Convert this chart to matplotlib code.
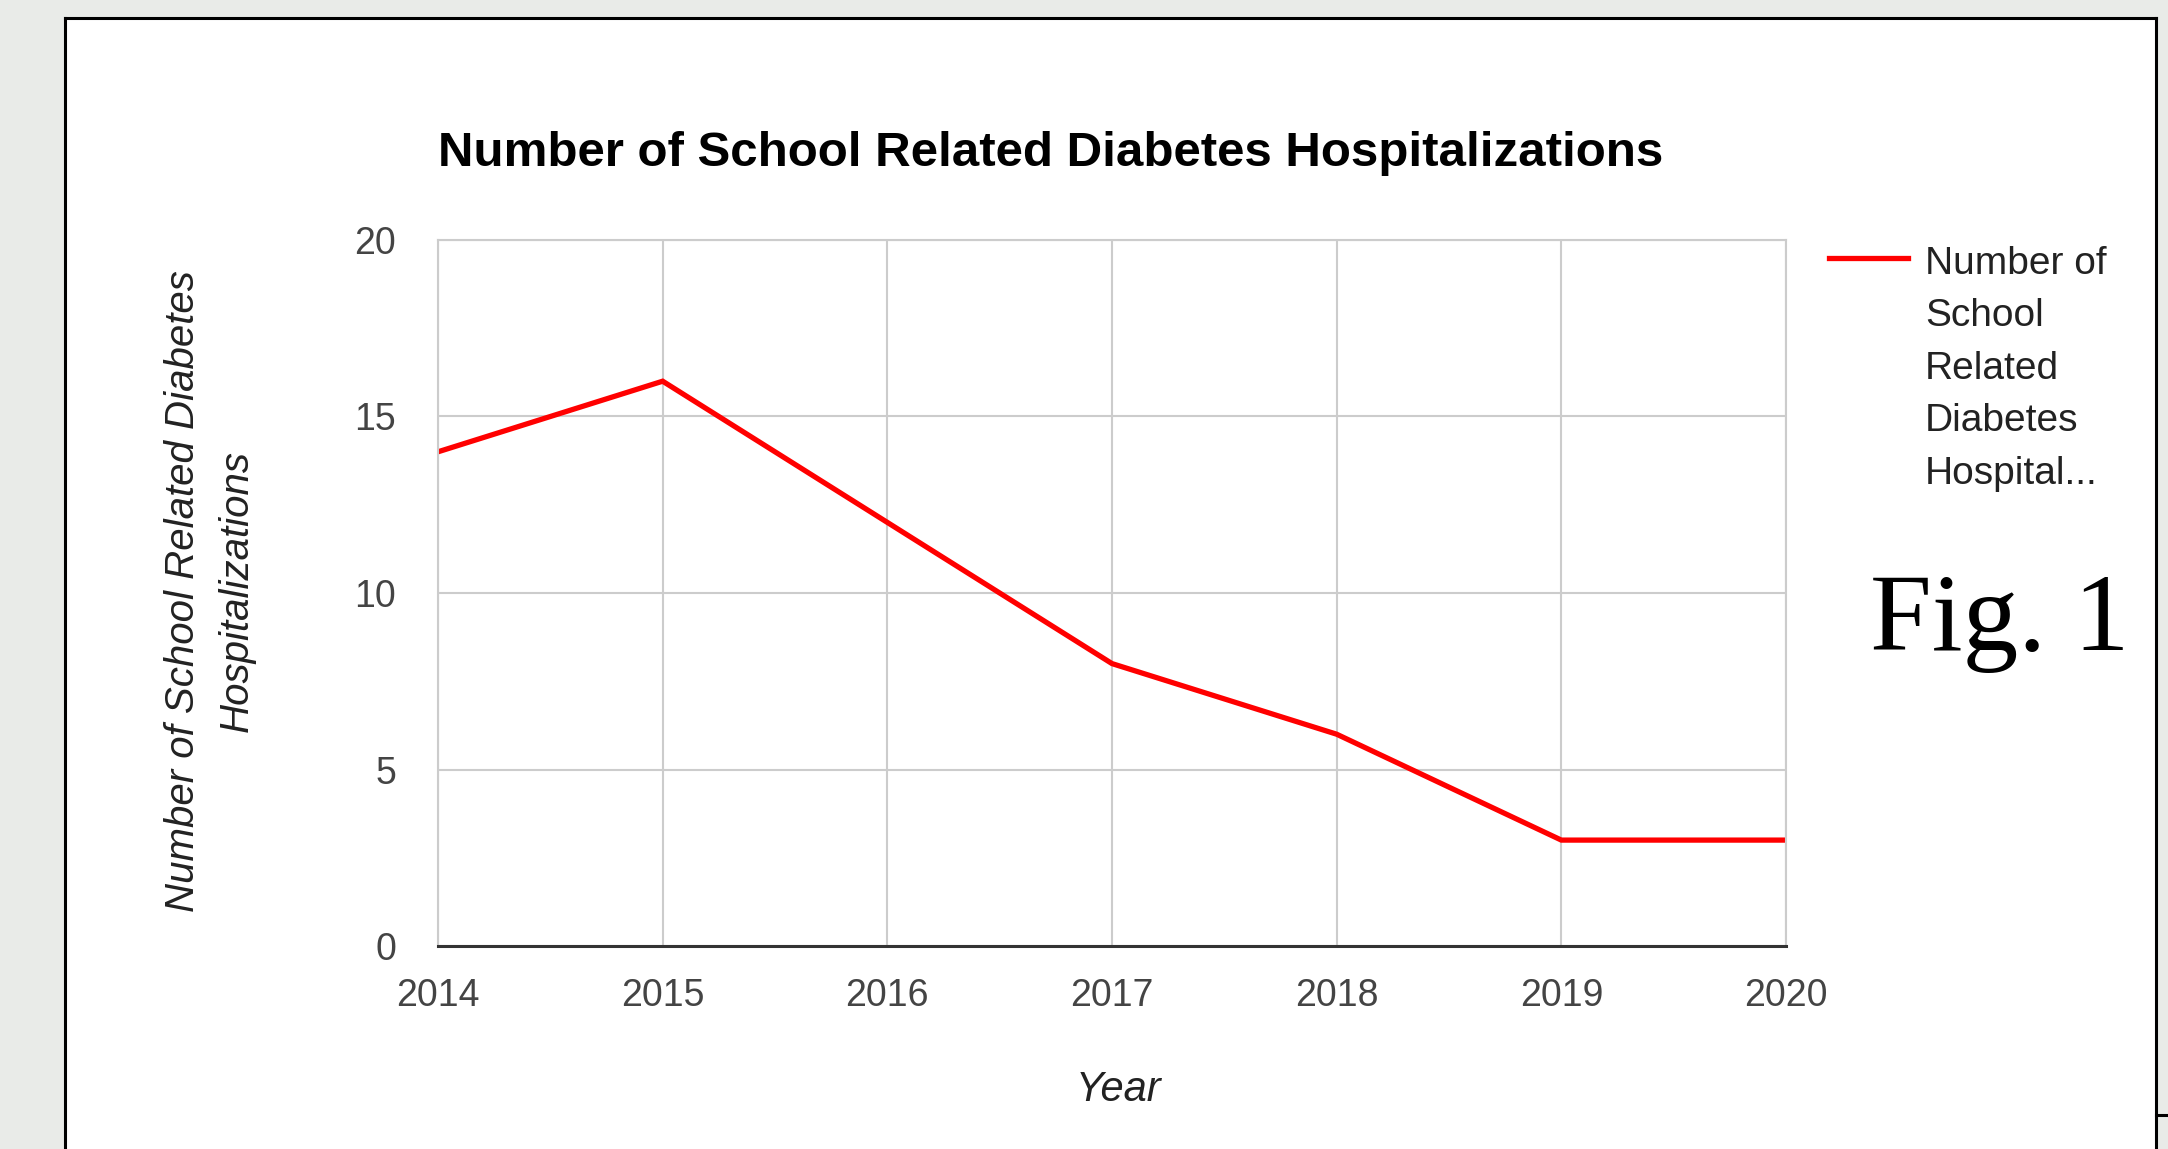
import matplotlib.pyplot as plt
from matplotlib.lines import Line2D

# data
years = [2014, 2015, 2016, 2017, 2018, 2019, 2020]
hospitalizations = [14, 16, 12, 8, 6, 3, 3]
y_ticks = [0, 5, 10, 15, 20]

title = 'Number of School Related Diabetes Hospitalizations'
series_name = 'Number of\nSchool\nRelated\nDiabetes\nHospital...'

W, H = 2168, 1149
fig = plt.figure(figsize=(W / 100, H / 100), dpi=100)
fig.patch.set_facecolor('#e9ebe8')

def fx(px):
    return px / W

def fy(py):
    return 1 - py / H

# white slide panel with black frame
panel = plt.Polygon([(fx(65), fy(18)), (fx(2156), fy(18)), (fx(2156), fy(1149)), (fx(65), fy(1149))],
                    closed=True, facecolor='white', edgecolor='none', transform=fig.transFigure,
                    zorder=-5)
fig.patches.append(panel)
for xs, ys in [([65, 2156], [18, 18]), ([65, 65], [18, 1149]), ([2156, 2156], [18, 1149]),
               ([2156, 2168], [1115, 1115])]:
    fig.lines.append(Line2D([fx(x) for x in xs], [fy(y) for y in ys], color='black', lw=2.2,
                            transform=fig.transFigure, zorder=-4))

font = ['Liberation Sans', 'DejaVu Sans']

ax = fig.add_axes([fx(438), fy(946), fx(1786 - 438), (946 - 240) / H])
ax.set_zorder(2)
ax.patch.set_alpha(0)
ax.plot(years, hospitalizations, color='#ff0000', lw=3.8, solid_joinstyle='miter')
ax.set_xlim(2014, 2020)
ax.set_ylim(0, 20)
ax.set_xticks(years)
ax.set_yticks(y_ticks)
ax.grid(True, color='#cccccc', lw=1.5)
ax.set_axisbelow(True)
ax.tick_params(length=0, labelsize=27, labelcolor='#444444')
ax.tick_params(axis='x', pad=23)
ax.tick_params(axis='y', pad=30)
for lab in ax.get_xticklabels() + ax.get_yticklabels():
    lab.set_family(font)
for s in ['left', 'right', 'top']:
    ax.spines[s].set_color('#cccccc')
    ax.spines[s].set_linewidth(1.5)
ax.spines['bottom'].set_color('#333333')
ax.spines['bottom'].set_linewidth(2.2)

fig.text(fx(438), fy(166), title, fontsize=35.5, fontweight='bold', family=font, color='black',
         ha='left', va='baseline')
fig.text(fx(210), fy(591), 'Number of School Related Diabetes\nHospitalizations', rotation=90,
         fontsize=29, style='italic', family=font, color='#222222', ha='center', va='center',
         linespacing=1.5)
fig.text(fx(1118), fy(1090), 'Year', fontsize=30, style='italic', family=font, color='#222222',
         ha='center', va='center')

# legend
fig.lines.append(Line2D([fx(1829), fx(1908)], [fy(258), fy(258)], color='#ff0000', lw=3.8,
                        transform=fig.transFigure))
fig.text(fx(1925), fy(484), series_name, fontsize=28, family=font, color='#222222',
         ha='left', va='baseline', linespacing=1.59)

fig.text(fx(1870), fy(650), 'Fig. 1', fontsize=80, family=['Liberation Serif', 'DejaVu Serif'],
         color='black', ha='left', va='baseline')

fig.savefig('out.png', dpi=100, facecolor=fig.get_facecolor())
